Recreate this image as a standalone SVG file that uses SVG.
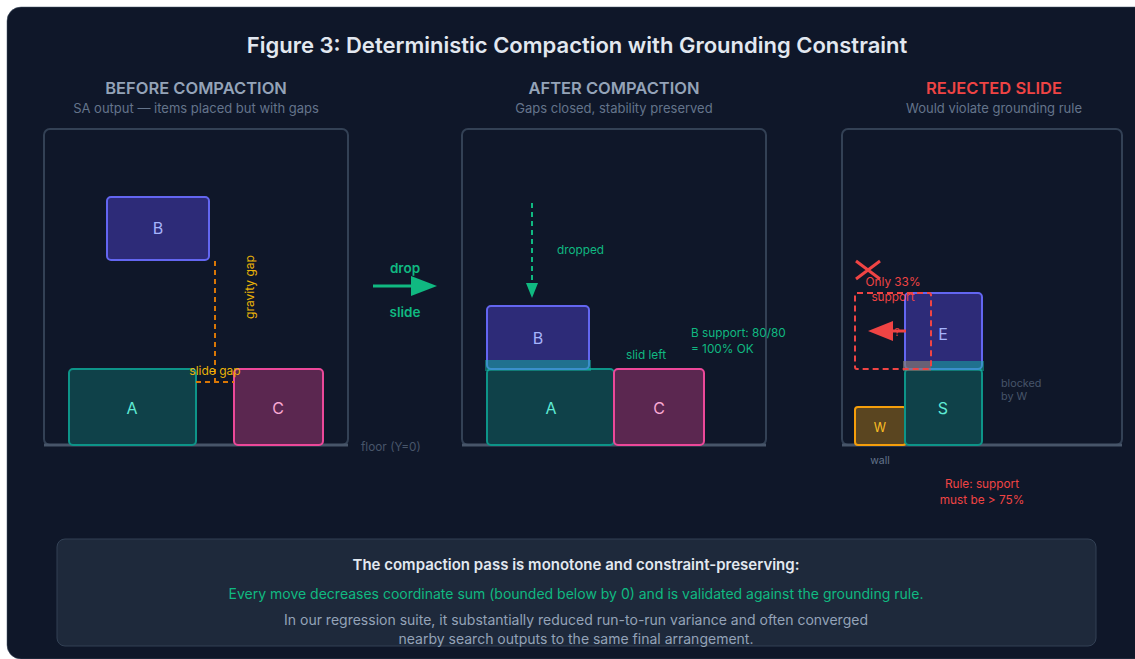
<svg xmlns="http://www.w3.org/2000/svg" width="1135" height="659" viewBox="0 0 1135 659">
<style>
  text { font-family: Inter, "Noto Sans", "Liberation Sans", sans-serif; }
  .panel { fill: none; stroke: #334155; stroke-width: 2; }
  .floor { stroke: #475569; stroke-width: 3; }
  .hdr { font-size: 16.5px; font-weight: 600; fill: #94a3b8; text-anchor: middle; }
  .sub { font-size: 13px; fill: #64748b; text-anchor: middle; }
  .bB { fill: #312e81; fill-opacity: 0.9; stroke: #6366f1; stroke-width: 2; }
  .bA { fill: #0f4149; stroke: #0d9488; stroke-width: 2; }
  .bC { fill: #5b2750; stroke: #ec4899; stroke-width: 2; }
  .bW { fill: #5a4520; stroke: #f59e0b; stroke-width: 2; }
  .lblB { font-size: 16px; fill: #a5b4fc; text-anchor: middle; }
  .lblA { font-size: 16px; fill: #5eead4; text-anchor: middle; }
  .lblC { font-size: 16px; fill: #f9a8d4; text-anchor: middle; }
  .ovl { fill: #14b8a6; fill-opacity: 0.5; }
  .green { font-size: 11.8px; fill: #10b981; }
  .red { font-size: 11.8px; fill: #ef4444; }
  .grey { font-size: 10.8px; fill: #475569; }
  .gap { stroke: #d97706; stroke-width: 2; stroke-dasharray: 5 4; fill: none; }
  .gapt { font-size: 12px; fill: #eab308; }
</style>
<rect x="0" y="0" width="1135" height="659" fill="#ffffff"/>
<rect x="7" y="7" width="1160" height="652" rx="14" fill="#0f1729" stroke="#475569" stroke-width="0.5"/>

<text x="577" y="53" text-anchor="middle" font-size="22" font-weight="600" fill="#e2e8f0">Figure 3: Deterministic Compaction with Grounding Constraint</text>

<text class="hdr" x="196" y="94">BEFORE COMPACTION</text>
<text class="sub" x="196" y="113">SA output — items placed but with gaps</text>
<text class="hdr" x="614" y="94">AFTER COMPACTION</text>
<text class="sub" x="614" y="113">Gaps closed, stability preserved</text>
<text class="hdr" x="994" y="94" style="fill:#ef4444">REJECTED SLIDE</text>
<text class="sub" x="994" y="113">Would violate grounding rule</text>

<!-- Panel 1 -->
<g id="panel-before">
  <rect class="panel" x="44" y="129" width="304" height="316" rx="6"/>
  <line class="floor" x1="44" y1="445" x2="348" y2="445"/>
  <text class="grey" x="361" y="451" style="font-size:11.8px">floor (Y=0)</text>
</g>
<g id="before-B">
  <rect class="bB" x="107" y="197" width="102" height="63" rx="4"/>
  <text class="lblB" x="158" y="234">B</text>
</g>
<g id="before-A">
  <rect class="bA" x="69" y="369" width="127" height="76" rx="4"/>
  <text class="lblA" x="132" y="414">A</text>
</g>
<g id="before-C">
  <rect class="bC" x="234" y="369" width="89" height="76" rx="4"/>
  <text class="lblC" x="278" y="414">C</text>
</g>
<g id="gaps">
  <path class="gap" d="M215,261 L215,382 M196,382 L234,382"/>
  <text class="gapt" transform="translate(254,287) rotate(-90)" text-anchor="middle">gravity gap</text>
  <text class="gapt" x="215" y="375" text-anchor="middle">slide gap</text>
</g>

<!-- Connectors -->
<g id="connectors">
  <line x1="373" y1="286" x2="413" y2="286" stroke="#10b981" stroke-width="3"/>
  <path d="M411,276 L437,286 L411,296 Z" fill="#10b981"/>
  <line x1="532" y1="203" x2="532" y2="285" stroke="#10b981" stroke-width="2" stroke-dasharray="5 4"/>
  <path d="M526,283 L538,283 L532,298 Z" fill="#10b981"/>
</g>
<text x="405" y="273" text-anchor="middle" font-size="13.5" font-weight="600" fill="#10b981">drop</text>
<text x="405" y="317" text-anchor="middle" font-size="13.5" font-weight="600" fill="#10b981">slide</text>

<!-- Panel 2 -->
<g id="panel-after">
  <rect class="panel" x="462" y="129" width="304" height="316" rx="6"/>
  <line class="floor" x1="462" y1="445" x2="766" y2="445"/>
  <text class="green" x="557" y="254">dropped</text>
  <text class="green" x="646" y="359" text-anchor="middle">slid left</text>
  <text class="green" x="691" y="337">B support: 80/80</text>
  <text class="green" x="691" y="353">= 100% OK</text>
</g>
<g id="after-A">
  <rect class="bA" x="487" y="369" width="127" height="76" rx="4"/>
  <text class="lblA" x="551" y="414">A</text>
</g>
<g id="after-C">
  <rect class="bC" x="614" y="369" width="90" height="76" rx="4"/>
  <text class="lblC" x="659" y="414">C</text>
</g>
<g id="after-B">
  <rect class="bB" x="487" y="306" width="102" height="63" rx="4"/>
  <text class="lblB" x="538" y="344">B</text>
  <rect class="ovl" x="485" y="360" width="106" height="11"/>
</g>

<!-- Panel 3 -->
<g id="panel-rejected">
  <rect class="panel" x="842" y="129" width="280" height="316" rx="6"/>
  <line class="floor" x1="842" y1="445" x2="1122" y2="445"/>
  <text class="grey" x="1001" y="387">blocked</text>
  <text class="grey" x="1001" y="400">by W</text>
  <text x="880" y="464" text-anchor="middle" font-size="10.5" fill="#64748b">wall</text>
  <text class="red" x="982" y="488" text-anchor="middle">Rule: support</text>
  <text class="red" x="982" y="504" text-anchor="middle">must be &gt; 75%</text>
</g>
<g id="rej-W">
  <rect class="bW" x="855" y="407" width="51" height="38" rx="3"/>
  <text x="880" y="432" text-anchor="middle" font-size="12.5" fill="#fbbf24">W</text>
</g>
<g id="rej-S">
  <rect class="bA" x="905" y="369" width="77" height="76" rx="4"/>
  <text class="lblA" x="943" y="414">S</text>
</g>
<g id="rej-E">
  <rect class="bB" x="905" y="293" width="77" height="76" rx="4"/>
  <text class="lblB" x="943" y="340">E</text>
  <rect class="ovl" x="903" y="361" width="81" height="10"/>
</g>
<g id="rej-ghost">
  <rect x="903" y="361" width="28" height="10" fill="#ef4444" fill-opacity="0.35"/>
  <rect x="855" y="293" width="76" height="76" rx="2" fill="none" stroke="#ef4444" stroke-width="2" stroke-dasharray="6 4"/>
  <text x="897" y="336" font-size="10" fill="#ef4444" text-anchor="middle">?</text>
  <line x1="906" y1="331" x2="890" y2="331" stroke="#ef4444" stroke-width="3"/>
  <path d="M893,321 L868,331 L893,341 Z" fill="#ef4444"/>
  <path d="M856,261 L880,279 M880,261 L856,279" stroke="#ef4444" stroke-width="3"/>
  <text class="red" x="893" y="286" text-anchor="middle">Only 33%</text>
  <text class="red" x="893" y="301" text-anchor="middle">support</text>
</g>

<!-- Bottom note -->
<g id="note">
  <rect x="57" y="539" width="1039" height="107" rx="8" fill="#1e293b" stroke="#334155" stroke-width="1"/>
  <text x="576" y="570" text-anchor="middle" font-size="15" font-weight="600" fill="#e2e8f0">The compaction pass is monotone and constraint-preserving:</text>
  <text x="576" y="599" text-anchor="middle" font-size="14" fill="#10b981">Every move decreases coordinate sum (bounded below by 0) and is validated against the grounding rule.</text>
  <text x="576" y="625" text-anchor="middle" font-size="14" fill="#94a3b8">In our regression suite, it substantially reduced run-to-run variance and often converged</text>
  <text x="576" y="644" text-anchor="middle" font-size="14" fill="#94a3b8">nearby search outputs to the same final arrangement.</text>
</g>
</svg>
